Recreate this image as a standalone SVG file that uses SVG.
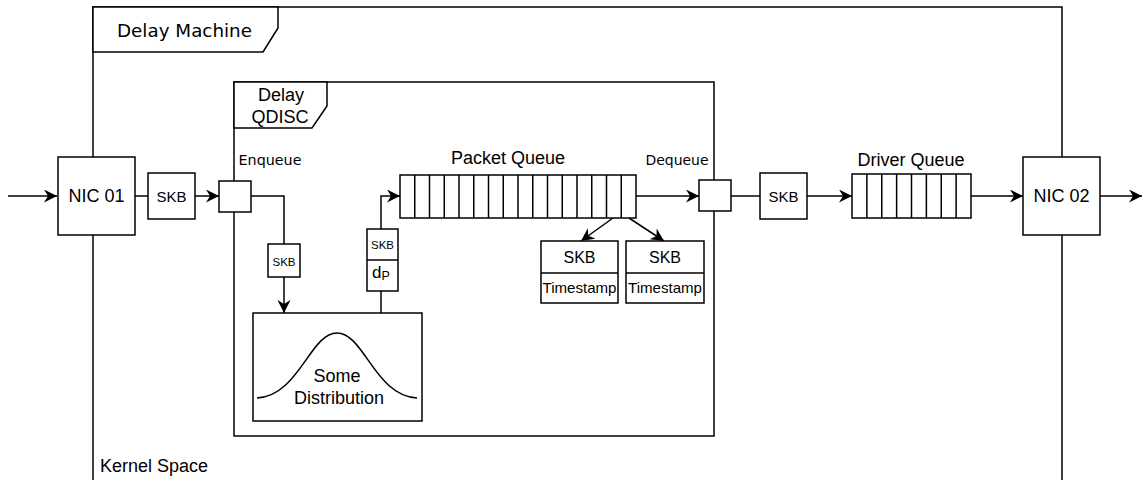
<svg xmlns="http://www.w3.org/2000/svg" width="1142" height="480" viewBox="0 0 1142 480">
  <defs>
    <marker id="arrow" markerUnits="userSpaceOnUse" markerWidth="15" markerHeight="14" refX="13" refY="6.5" orient="auto">
      <path d="M0,0 L13,6.5 L0,13 L4,6.5 Z" fill="#000"/>
    </marker>
    <style>
      .frame { fill: none; stroke: #000; stroke-width: 1.5; }
      .tab { fill: #fff; stroke: #000; stroke-width: 1.5; }
      .box { fill: #fff; stroke: #000; stroke-width: 1.5; }
      .cell { stroke: #000; stroke-width: 1.5; fill: none; }
      .edge { fill: none; stroke: #000; stroke-width: 1.5; }
      .arr { marker-end: url(#arrow); }
      .sans { font-family: "Liberation Sans", Arial, sans-serif; fill: #000; }
      .dv { font-family: "DejaVu Sans", Verdana, sans-serif; fill: #000; }
      .mid { text-anchor: middle; }
      .t18 { font-size: 18px; }
      .t16 { font-size: 16px; }
      .t15 { font-size: 15px; }
      .t11 { font-size: 11.5px; }
    </style>
  </defs>
  <rect width="1142" height="480" fill="#fff"/>

  <!-- Delay Machine frame -->
  <g id="delay-machine">
    <rect class="frame" x="93" y="7" width="969" height="490"/>
    <path class="tab" d="M93,7 H278 V28 L263,52 H93 Z"/>
    <text class="dv t18 mid" x="184.5" y="37" textLength="135" lengthAdjust="spacingAndGlyphs">Delay Machine</text>
    <text class="sans t18" x="100" y="472">Kernel Space</text>
  </g>

  <!-- Delay QDISC frame -->
  <g id="delay-qdisc">
    <rect class="frame" x="234" y="82" width="480" height="354"/>
    <path class="tab" d="M234,82 H327 V106 L312,128 H234 Z"/>
    <text class="sans t18 mid" x="281" y="101">Delay</text>
    <text class="sans t18 mid" x="280" y="123">QDISC</text>
    <text class="dv mid" font-size="14" x="270" y="165" textLength="63" lengthAdjust="spacingAndGlyphs">Enqueue</text>
    <text class="dv mid" font-size="14" x="677" y="165" textLength="63" lengthAdjust="spacingAndGlyphs">Dequeue</text>
  </g>

  <!-- connectors -->
  <g id="connectors">
    <path class="edge arr" d="M8,196 H57"/>
    <path class="edge" d="M135,196 H148"/>
    <path class="edge arr" d="M195,196 H219"/>
    <path class="edge" d="M251,196 H284 V244"/>
    <path class="edge arr" d="M284,277 V313"/>
    <path class="edge" d="M381,313 V291"/>
    <path class="edge arr" d="M381,229 V196 H400"/>
    <path class="edge arr" d="M636,196 H699"/>
    <path class="edge arr" d="M613,218 L581,241"/>
    <path class="edge arr" d="M629,218 L664,241"/>
    <path class="edge" d="M731,196 H760"/>
    <path class="edge arr" d="M807,196 H852"/>
    <path class="edge arr" d="M971,196 H1023"/>
    <path class="edge arr" d="M1100,196 H1142"/>
  </g>

  <g id="nic01">
    <rect class="box" x="58" y="157" width="77" height="78"/>
    <text class="sans t18 mid" x="96.5" y="202">NIC 01</text>
  </g>

  <g id="skb-in">
    <rect class="box" x="148" y="173" width="47" height="46"/>
    <text class="sans t15 mid" x="171.5" y="201.5">SKB</text>
  </g>

  <g id="enqueue">
    <rect class="box" x="219" y="181" width="32" height="31"/>
  </g>

  <g id="skb-enq">
    <rect class="box" x="268" y="244" width="32" height="33"/>
    <text class="sans t11 mid" x="284" y="265.5">SKB</text>
  </g>

  <g id="distribution">
    <rect class="box" x="253" y="313" width="169" height="108"/>
    <path class="edge" d="M257,398 C299,396 310,333 337,333 C364,333 375,396 417,398"/>
    <text class="sans t18 mid" x="337" y="382">Some</text>
    <text class="sans t18 mid" x="339" y="403.5">Distribution</text>
  </g>

  <g id="skb-delay">
    <rect class="box" x="367" y="229" width="31" height="62"/>
    <line class="cell" x1="367" y1="260" x2="398" y2="260"/>
    <text class="sans t11 mid" x="382.5" y="249">SKB</text>
    <text class="sans" font-size="17" x="372" y="278">d<tspan font-size="12.5" dy="2">P</tspan></text>
  </g>

  <g id="packet-queue">
    <text class="sans t18 mid" x="508" y="164">Packet Queue</text>
    <rect class="box" x="400" y="175" width="236" height="43"/>
    <path class="cell" d="M414.75,175V218 M429.5,175V218 M444.25,175V218 M459,175V218 M473.75,175V218 M488.5,175V218 M503.25,175V218 M518,175V218 M532.75,175V218 M547.5,175V218 M562.25,175V218 M577,175V218 M591.75,175V218 M606.5,175V218 M621.25,175V218"/>
  </g>

  <g id="skb-ts-1">
    <rect class="box" x="541" y="241" width="77" height="62"/>
    <line class="cell" x1="541" y1="273" x2="618" y2="273"/>
    <text class="sans t16 mid" x="579.5" y="262.5">SKB</text>
    <text class="sans mid" font-size="14.5" x="579.5" y="293" textLength="74" lengthAdjust="spacingAndGlyphs">Timestamp</text>
  </g>

  <g id="skb-ts-2">
    <rect class="box" x="626" y="241" width="78" height="62"/>
    <line class="cell" x1="626" y1="273" x2="704" y2="273"/>
    <text class="sans t16 mid" x="665" y="262.5">SKB</text>
    <text class="sans mid" font-size="14.5" x="665" y="293" textLength="74" lengthAdjust="spacingAndGlyphs">Timestamp</text>
  </g>

  <g id="dequeue">
    <rect class="box" x="699" y="180" width="32" height="31"/>
  </g>

  <g id="skb-out">
    <rect class="box" x="760" y="173" width="47" height="46"/>
    <text class="sans t15 mid" x="783.5" y="201.5">SKB</text>
  </g>

  <g id="driver-queue">
    <text class="sans t18 mid" x="911" y="166">Driver Queue</text>
    <rect class="box" x="852" y="174" width="119" height="44"/>
    <path class="cell" d="M866.875,174V218 M881.75,174V218 M896.625,174V218 M911.5,174V218 M926.375,174V218 M941.25,174V218 M956.125,174V218"/>
  </g>

  <g id="nic02">
    <rect class="box" x="1023" y="157" width="77" height="78"/>
    <text class="sans t18 mid" x="1061.5" y="202">NIC 02</text>
  </g>
</svg>
